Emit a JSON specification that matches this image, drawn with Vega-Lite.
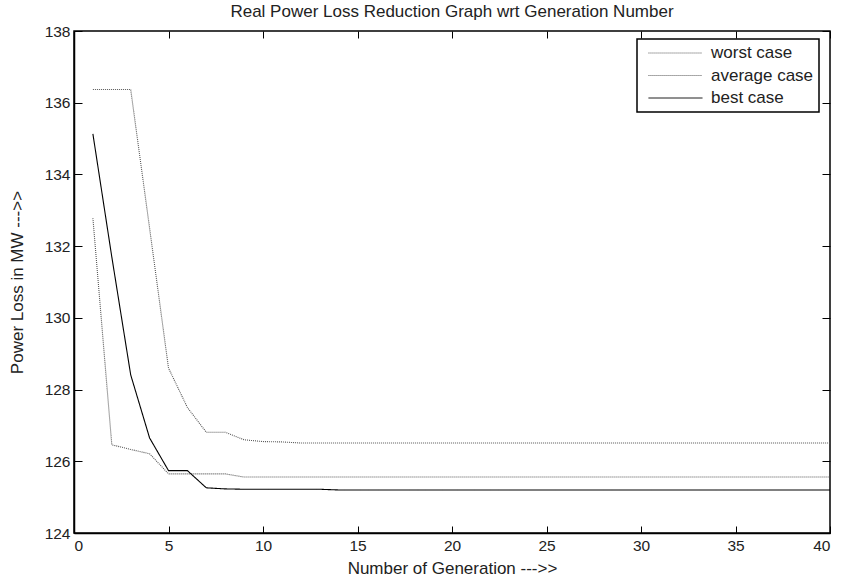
{
  "$schema": "https://vega.github.io/schema/vega-lite/v6.json",
  "autosize": "none",
  "width": 756,
  "height": 502,
  "padding": {"left": 74, "top": 31, "right": 13, "bottom": 46},
  "background": "white",
  "config": {
    "font": "Liberation Sans",
    "view": {"stroke": "black", "strokeWidth": 1.5},
    "axis": {"grid": false, "domainColor": "black", "domainWidth": 1.5, "tickColor": "black", "tickWidth": 1, "labelColor": "#222", "labelFontSize": 15.5, "titleFontSize": 17, "titleFontWeight": "normal", "titleColor": "#222", "labelFont": "Liberation Sans", "titleFont": "Liberation Sans"},
    "title": {"fontSize": 17, "fontWeight": "normal", "color": "#222", "font": "Liberation Sans"}
  },
  "title": {"text": "Real Power Loss Reduction Graph wrt Generation Number", "offset": 3},
  "data": {"values": [
    {"gen": 1, "case": "worst case", "loss": 136.37},
    {"gen": 2, "case": "worst case", "loss": 136.37},
    {"gen": 3, "case": "worst case", "loss": 136.37},
    {"gen": 4, "case": "worst case", "loss": 132.5},
    {"gen": 5, "case": "worst case", "loss": 128.6},
    {"gen": 6, "case": "worst case", "loss": 127.5},
    {"gen": 7, "case": "worst case", "loss": 126.81},
    {"gen": 8, "case": "worst case", "loss": 126.81},
    {"gen": 9, "case": "worst case", "loss": 126.6},
    {"gen": 10, "case": "worst case", "loss": 126.55},
    {"gen": 11, "case": "worst case", "loss": 126.54},
    {"gen": 12, "case": "worst case", "loss": 126.51},
    {"gen": 13, "case": "worst case", "loss": 126.51},
    {"gen": 14, "case": "worst case", "loss": 126.51},
    {"gen": 15, "case": "worst case", "loss": 126.51},
    {"gen": 16, "case": "worst case", "loss": 126.51},
    {"gen": 17, "case": "worst case", "loss": 126.51},
    {"gen": 18, "case": "worst case", "loss": 126.51},
    {"gen": 19, "case": "worst case", "loss": 126.51},
    {"gen": 20, "case": "worst case", "loss": 126.51},
    {"gen": 21, "case": "worst case", "loss": 126.51},
    {"gen": 22, "case": "worst case", "loss": 126.51},
    {"gen": 23, "case": "worst case", "loss": 126.51},
    {"gen": 24, "case": "worst case", "loss": 126.51},
    {"gen": 25, "case": "worst case", "loss": 126.51},
    {"gen": 26, "case": "worst case", "loss": 126.51},
    {"gen": 27, "case": "worst case", "loss": 126.51},
    {"gen": 28, "case": "worst case", "loss": 126.51},
    {"gen": 29, "case": "worst case", "loss": 126.51},
    {"gen": 30, "case": "worst case", "loss": 126.51},
    {"gen": 31, "case": "worst case", "loss": 126.51},
    {"gen": 32, "case": "worst case", "loss": 126.51},
    {"gen": 33, "case": "worst case", "loss": 126.51},
    {"gen": 34, "case": "worst case", "loss": 126.51},
    {"gen": 35, "case": "worst case", "loss": 126.51},
    {"gen": 36, "case": "worst case", "loss": 126.51},
    {"gen": 37, "case": "worst case", "loss": 126.51},
    {"gen": 38, "case": "worst case", "loss": 126.51},
    {"gen": 39, "case": "worst case", "loss": 126.51},
    {"gen": 40, "case": "worst case", "loss": 126.51},
    {"gen": 1, "case": "average case", "loss": 132.78},
    {"gen": 2, "case": "average case", "loss": 126.46},
    {"gen": 3, "case": "average case", "loss": 126.33},
    {"gen": 4, "case": "average case", "loss": 126.21},
    {"gen": 5, "case": "average case", "loss": 125.65},
    {"gen": 6, "case": "average case", "loss": 125.65},
    {"gen": 7, "case": "average case", "loss": 125.65},
    {"gen": 8, "case": "average case", "loss": 125.65},
    {"gen": 9, "case": "average case", "loss": 125.56},
    {"gen": 10, "case": "average case", "loss": 125.56},
    {"gen": 11, "case": "average case", "loss": 125.56},
    {"gen": 12, "case": "average case", "loss": 125.56},
    {"gen": 13, "case": "average case", "loss": 125.56},
    {"gen": 14, "case": "average case", "loss": 125.56},
    {"gen": 15, "case": "average case", "loss": 125.56},
    {"gen": 16, "case": "average case", "loss": 125.56},
    {"gen": 17, "case": "average case", "loss": 125.56},
    {"gen": 18, "case": "average case", "loss": 125.56},
    {"gen": 19, "case": "average case", "loss": 125.56},
    {"gen": 20, "case": "average case", "loss": 125.56},
    {"gen": 21, "case": "average case", "loss": 125.56},
    {"gen": 22, "case": "average case", "loss": 125.56},
    {"gen": 23, "case": "average case", "loss": 125.56},
    {"gen": 24, "case": "average case", "loss": 125.56},
    {"gen": 25, "case": "average case", "loss": 125.56},
    {"gen": 26, "case": "average case", "loss": 125.56},
    {"gen": 27, "case": "average case", "loss": 125.56},
    {"gen": 28, "case": "average case", "loss": 125.56},
    {"gen": 29, "case": "average case", "loss": 125.56},
    {"gen": 30, "case": "average case", "loss": 125.56},
    {"gen": 31, "case": "average case", "loss": 125.56},
    {"gen": 32, "case": "average case", "loss": 125.56},
    {"gen": 33, "case": "average case", "loss": 125.56},
    {"gen": 34, "case": "average case", "loss": 125.56},
    {"gen": 35, "case": "average case", "loss": 125.56},
    {"gen": 36, "case": "average case", "loss": 125.56},
    {"gen": 37, "case": "average case", "loss": 125.56},
    {"gen": 38, "case": "average case", "loss": 125.56},
    {"gen": 39, "case": "average case", "loss": 125.56},
    {"gen": 40, "case": "average case", "loss": 125.56},
    {"gen": 1, "case": "best case", "loss": 135.13},
    {"gen": 2, "case": "best case", "loss": 131.7},
    {"gen": 3, "case": "best case", "loss": 128.41},
    {"gen": 4, "case": "best case", "loss": 126.65},
    {"gen": 5, "case": "best case", "loss": 125.74},
    {"gen": 6, "case": "best case", "loss": 125.74},
    {"gen": 7, "case": "best case", "loss": 125.26},
    {"gen": 8, "case": "best case", "loss": 125.23},
    {"gen": 9, "case": "best case", "loss": 125.22},
    {"gen": 10, "case": "best case", "loss": 125.22},
    {"gen": 11, "case": "best case", "loss": 125.22},
    {"gen": 12, "case": "best case", "loss": 125.22},
    {"gen": 13, "case": "best case", "loss": 125.22},
    {"gen": 14, "case": "best case", "loss": 125.2},
    {"gen": 15, "case": "best case", "loss": 125.2},
    {"gen": 16, "case": "best case", "loss": 125.2},
    {"gen": 17, "case": "best case", "loss": 125.2},
    {"gen": 18, "case": "best case", "loss": 125.2},
    {"gen": 19, "case": "best case", "loss": 125.2},
    {"gen": 20, "case": "best case", "loss": 125.2},
    {"gen": 21, "case": "best case", "loss": 125.2},
    {"gen": 22, "case": "best case", "loss": 125.2},
    {"gen": 23, "case": "best case", "loss": 125.2},
    {"gen": 24, "case": "best case", "loss": 125.2},
    {"gen": 25, "case": "best case", "loss": 125.2},
    {"gen": 26, "case": "best case", "loss": 125.2},
    {"gen": 27, "case": "best case", "loss": 125.2},
    {"gen": 28, "case": "best case", "loss": 125.2},
    {"gen": 29, "case": "best case", "loss": 125.2},
    {"gen": 30, "case": "best case", "loss": 125.2},
    {"gen": 31, "case": "best case", "loss": 125.2},
    {"gen": 32, "case": "best case", "loss": 125.2},
    {"gen": 33, "case": "best case", "loss": 125.2},
    {"gen": 34, "case": "best case", "loss": 125.2},
    {"gen": 35, "case": "best case", "loss": 125.2},
    {"gen": 36, "case": "best case", "loss": 125.2},
    {"gen": 37, "case": "best case", "loss": 125.2},
    {"gen": 38, "case": "best case", "loss": 125.2},
    {"gen": 39, "case": "best case", "loss": 125.2},
    {"gen": 40, "case": "best case", "loss": 125.2}
  ]},
  "layer": [
    {
      "mark": {"type": "line", "strokeWidth": 1.1, "clip": true},
      "encoding": {
        "x": {"field": "gen", "type": "quantitative", "scale": {"domain": [0, 40], "nice": false}, "axis": {"title": "Number of Generation --->>", "values": [0, 5, 10, 15, 20, 25, 30, 35, 40], "tickSize": -7, "labelPadding": 12, "titlePadding": 7}},
        "y": {"field": "loss", "type": "quantitative", "scale": {"domain": [124, 138], "nice": false, "zero": false}, "axis": {"title": "Power Loss in MW --->>", "values": [124, 126, 128, 130, 132, 134, 136, 138], "tickSize": -8, "labelPadding": 12, "titlePadding": 18}},
        "color": {"field": "case", "type": "nominal", "scale": {"domain": ["worst case", "average case", "best case"], "range": ["#555555", "#555555", "#000000"]},
          "legend": {"title": null, "orient": "none", "legendX": 563, "legendY": 8, "strokeColor": "black", "fillColor": "white", "padding": 5.5, "symbolType": "M-0.42,0H8.58", "symbolSize": 144, "symbolStrokeWidth": 1, "labelFontSize": 17, "labelColor": "#222", "labelOffset": 51.5, "rowPadding": 4.5, "symbolOpacity": 1,
            "encode": {"legend": {"update": {"strokeWidth": {"value": 1.5}}}}}},
        "strokeDash": {"field": "case", "type": "nominal", "scale": {"domain": ["worst case", "average case", "best case"], "range": [[1, 1], [1, 1], [1, 0]]}}
      }
    },
    {
      "mark": {"type": "rule", "opacity": 0},
      "encoding": {
        "x": {"field": "gen", "type": "quantitative", "aggregate": "min", "axis": {"orient": "top", "title": null, "labels": false, "values": [0, 5, 10, 15, 20, 25, 30, 35, 40], "tickSize": -7, "domain": false}},
        "y": {"field": "loss", "type": "quantitative", "aggregate": "min", "axis": {"orient": "right", "title": null, "labels": false, "values": [124, 126, 128, 130, 132, 134, 136, 138], "tickSize": -8, "domain": false}}
      }
    }
  ],
  "resolve": {"axis": {"x": "independent", "y": "independent"}}
}
